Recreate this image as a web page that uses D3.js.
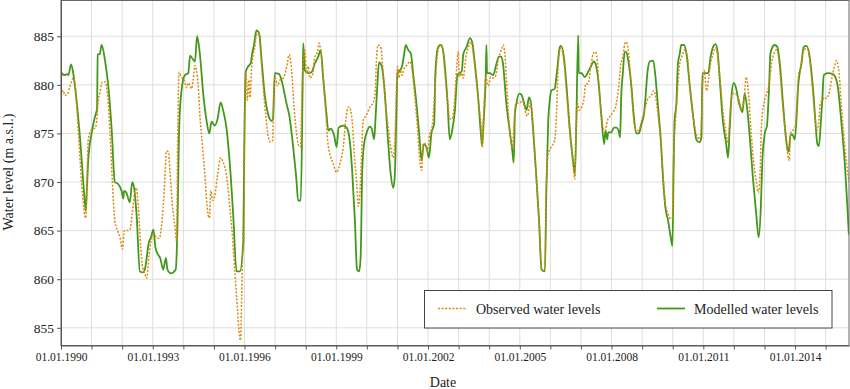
<!DOCTYPE html>
<html><head><meta charset="utf-8">
<script src="https://cdn.jsdelivr.net/npm/d3@7"></script>
<style>body{margin:0;background:#fff}svg{display:block;font-family:"Liberation Serif","Times New Roman",serif}</style>
</head><body><svg id="c" width="850" height="389"></svg>
<script>
// [decimal year, water level (m a.s.l.)]
const observed = [
[1990.00,878.9],[1990.04,879.3],[1990.08,879.4],[1990.12,878.9],[1990.22,879.1],[1990.29,879.8],[1990.40,880.7],[1990.48,879.4],
[1990.57,875.0],[1990.67,870.1],[1990.74,867.4],[1990.81,866.3],[1990.86,871.2],[1990.89,874.3],[1990.98,875.3],[1991.06,875.5],
[1991.12,875.6],[1991.17,876.3],[1991.22,878.4],[1991.27,879.1],[1991.35,880.3],[1991.44,880.3],[1991.53,878.7],[1991.60,875.3],
[1991.68,870.1],[1991.76,866.0],[1991.85,865.0],[1991.93,864.3],[1992.01,863.1],[1992.07,865.0],[1992.14,865.0],[1992.25,865.1],
[1992.33,866.7],[1992.42,869.1],[1992.46,869.4],[1992.53,867.4],[1992.61,863.2],[1992.67,861.2],[1992.72,860.8],[1992.80,860.1],
[1992.88,862.5],[1992.94,863.9],[1993.02,864.6],[1993.13,864.3],[1993.21,864.2],[1993.29,865.6],[1993.38,869.4],[1993.45,873.2],
[1993.51,873.1],[1993.56,871.2],[1993.64,867.7],[1993.73,865.3],[1993.78,863.9],[1993.81,872.9],[1993.86,881.3],[1993.94,880.8],
[1994.05,880.3],[1994.10,879.7],[1994.16,880.2],[1994.27,879.6],[1994.32,880.5],[1994.38,882.0],[1994.43,881.5],[1994.49,879.8],
[1994.54,877.0],[1994.63,873.6],[1994.71,870.5],[1994.78,867.4],[1994.85,866.3],[1994.90,869.1],[1994.96,868.1],[1995.03,868.6],
[1995.11,870.5],[1995.22,872.5],[1995.28,872.2],[1995.36,871.5],[1995.44,870.1],[1995.52,867.4],[1995.61,864.3],[1995.69,860.5],
[1995.76,857.4],[1995.83,854.4],[1995.87,853.7],[1995.91,858.4],[1995.94,862.5],[1995.98,863.6],[1996.01,876.3],[1996.05,881.3],
[1996.09,878.4],[1996.14,880.5],[1996.18,878.7],[1996.23,881.5],[1996.29,883.2],[1996.34,883.9],[1996.39,885.1],[1996.47,885.3],
[1996.53,883.2],[1996.61,879.8],[1996.70,876.7],[1996.78,874.6],[1996.85,874.1],[1996.92,874.3],[1996.96,879.8],[1997.00,880.8],
[1997.07,879.9],[1997.16,880.5],[1997.27,880.7],[1997.38,881.9],[1997.46,883.1],[1997.54,881.5],[1997.62,877.7],[1997.70,875.0],
[1997.78,873.7],[1997.83,873.6],[1997.88,879.8],[1997.92,882.2],[1997.97,883.6],[1998.03,881.2],[1998.08,881.9],[1998.14,880.7],
[1998.22,881.0],[1998.30,882.9],[1998.39,883.4],[1998.44,884.3],[1998.49,883.6],[1998.57,880.8],[1998.66,877.0],[1998.72,874.2],
[1998.79,872.9],[1998.90,871.9],[1999.01,871.0],[1999.12,871.9],[1999.23,873.6],[1999.31,876.3],[1999.39,877.7],[1999.43,877.7],
[1999.52,876.3],[1999.59,872.9],[1999.67,869.8],[1999.72,867.5],[1999.77,868.7],[1999.83,872.9],[1999.88,876.3],[1999.99,876.9],
[2000.10,877.7],[2000.21,878.2],[2000.27,879.1],[2000.32,882.9],[2000.37,884.1],[2000.45,883.9],[2000.51,882.2],[2000.59,878.7],
[2000.70,875.6],[2000.78,873.6],[2000.86,872.5],[2000.91,873.9],[2000.96,879.1],[2001.00,881.9],[2001.05,880.7],[2001.10,881.5],
[2001.15,881.0],[2001.22,881.7],[2001.30,882.0],[2001.41,882.4],[2001.49,881.2],[2001.57,878.7],[2001.66,875.3],[2001.73,872.2],
[2001.79,871.2],[2001.84,873.9],[2001.89,874.0],[2001.98,873.2],[2002.06,875.0],[2002.13,875.6],[2002.23,879.8],[2002.31,883.2],
[2002.39,884.1],[2002.47,883.8],[2002.55,881.2],[2002.64,878.4],[2002.71,876.5],[2002.79,876.5],[2002.86,878.1],[2002.94,881.9],
[2002.99,883.4],[2003.02,880.8],[2003.10,881.2],[2003.15,880.7],[2003.24,882.9],[2003.32,883.9],[2003.40,884.4],[2003.48,883.2],
[2003.57,880.8],[2003.66,878.1],[2003.74,875.6],[2003.78,873.6],[2003.83,877.7],[2003.89,880.8],[2003.97,879.9],[2004.05,880.8],
[2004.13,880.7],[2004.22,881.0],[2004.29,882.5],[2004.40,883.6],[2004.46,884.1],[2004.51,883.2],[2004.59,879.1],[2004.67,875.3],
[2004.76,873.6],[2004.80,875.3],[2004.87,878.1],[2004.98,878.1],[2005.09,878.4],[2005.20,877.0],[2005.25,876.8],[2005.34,878.1],
[2005.39,877.4],[2005.45,875.0],[2005.52,871.3],[2005.63,865.8],[2005.71,861.1],[2005.82,861.0],[2005.87,870.1],[2005.93,872.9],
[2006.03,873.6],[2006.14,874.3],[2006.19,876.3],[2006.25,881.5],[2006.31,883.6],[2006.35,883.8],[2006.44,882.5],[2006.53,879.1],
[2006.63,875.3],[2006.74,871.9],[2006.80,870.3],[2006.85,876.3],[2006.89,878.1],[2006.94,877.4],[2007.02,877.7],[2007.09,878.4],
[2007.16,880.1],[2007.23,880.1],[2007.31,881.5],[2007.40,883.2],[2007.48,883.4],[2007.55,881.9],[2007.58,880.1],[2007.67,877.0],
[2007.72,875.6],[2007.80,875.3],[2007.86,876.3],[2007.94,876.7],[2008.05,877.2],[2008.13,877.7],[2008.22,879.4],[2008.31,882.2],
[2008.37,882.9],[2008.45,884.4],[2008.50,884.3],[2008.58,882.5],[2008.65,879.4],[2008.73,876.3],[2008.81,875.3],[2008.89,875.3],
[2008.98,876.3],[2009.08,877.4],[2009.19,878.6],[2009.30,878.9],[2009.38,879.4],[2009.46,878.4],[2009.54,876.3],[2009.61,874.3],
[2009.68,870.8],[2009.76,867.7],[2009.85,866.7],[2009.93,866.2],[2009.99,866.3],[2010.03,872.9],[2010.09,876.3],[2010.15,879.1],
[2010.23,882.2],[2010.30,882.9],[2010.39,883.6],[2010.48,882.9],[2010.56,879.8],[2010.67,876.7],[2010.78,874.8],[2010.88,874.4],
[2010.94,876.3],[2010.97,879.4],[2011.03,881.5],[2011.11,879.4],[2011.18,880.8],[2011.24,882.2],[2011.32,883.2],[2011.40,883.8],
[2011.46,883.2],[2011.54,880.8],[2011.64,877.4],[2011.73,875.3],[2011.81,874.1],[2011.88,877.4],[2011.95,879.1],[2012.04,879.1],
[2012.15,878.6],[2012.26,877.5],[2012.34,878.7],[2012.40,880.8],[2012.48,879.1],[2012.56,875.3],[2012.64,872.2],[2012.73,870.1],
[2012.80,868.9],[2012.85,870.5],[2012.91,876.3],[2012.99,878.2],[2013.07,879.1],[2013.15,880.1],[2013.23,882.2],[2013.31,883.2],
[2013.40,883.6],[2013.48,882.2],[2013.56,879.1],[2013.64,876.3],[2013.73,873.6],[2013.81,872.2],[2013.85,875.0],[2013.92,875.3],
[2014.00,875.6],[2014.07,878.7],[2014.12,881.2],[2014.17,881.5],[2014.23,882.9],[2014.31,883.6],[2014.39,883.8],[2014.47,882.9],
[2014.56,879.8],[2014.64,877.0],[2014.71,875.3],[2014.78,876.3],[2014.83,878.1],[2014.89,878.4],[2014.96,878.7],[2015.03,878.6],
[2015.13,879.4],[2015.21,880.8],[2015.29,881.9],[2015.35,882.5],[2015.43,881.5],[2015.51,878.1],[2015.62,873.9],[2015.73,870.8],
[2015.77,870.0]
];
const modelled = [
[1990.00,879.8],[1990.01,881.2],[1990.10,881.0],[1990.20,881.1],[1990.24,881.0],[1990.33,882.1],[1990.40,881.2],[1990.46,879.8],
[1990.62,874.6],[1990.76,868.7],[1990.81,867.0],[1990.85,869.5],[1990.89,872.2],[1991.00,875.0],[1991.11,876.7],[1991.18,877.6],
[1991.20,883.1],[1991.27,883.2],[1991.33,884.1],[1991.44,882.5],[1991.55,879.8],[1991.66,875.3],[1991.76,870.0],[1991.87,869.8],
[1991.98,869.1],[1992.04,868.3],[1992.06,869.1],[1992.14,868.9],[1992.25,867.9],[1992.33,870.0],[1992.39,869.4],[1992.47,866.7],
[1992.58,860.8],[1992.69,860.7],[1992.74,861.0],[1992.88,863.9],[1992.94,864.3],[1993.02,865.1],[1993.09,863.2],[1993.20,862.4],
[1993.24,862.2],[1993.34,861.0],[1993.43,862.2],[1993.48,861.0],[1993.59,860.6],[1993.75,861.0],[1993.81,866.0],[1993.86,875.3],
[1993.94,879.4],[1994.05,881.0],[1994.16,881.2],[1994.22,883.0],[1994.32,882.6],[1994.38,882.4],[1994.45,885.0],[1994.54,883.2],
[1994.65,879.1],[1994.76,876.3],[1994.85,875.0],[1994.92,876.2],[1995.03,875.8],[1995.12,876.5],[1995.22,878.2],[1995.30,877.4],
[1995.41,875.6],[1995.52,871.9],[1995.63,866.7],[1995.74,860.8],[1995.85,860.8],[1995.96,863.9],[1995.99,872.9],[1996.04,881.3],
[1996.12,881.9],[1996.20,882.2],[1996.25,883.2],[1996.31,884.1],[1996.39,885.6],[1996.48,885.3],[1996.56,882.5],[1996.67,878.7],
[1996.77,877.0],[1996.88,876.3],[1996.93,876.5],[1996.99,881.2],[1997.13,881.1],[1997.24,880.1],[1997.37,878.1],[1997.46,876.9],
[1997.59,873.6],[1997.70,870.1],[1997.75,868.1],[1997.84,868.1],[1997.90,879.8],[1997.92,884.3],[1997.97,881.5],[1998.08,881.2],
[1998.19,881.3],[1998.30,882.2],[1998.41,882.9],[1998.49,883.6],[1998.57,880.8],[1998.68,877.0],[1998.74,875.3],[1998.82,875.5],
[1998.93,874.8],[1999.01,873.6],[1999.08,875.6],[1999.23,875.8],[1999.34,875.6],[1999.44,874.3],[1999.52,871.2],[1999.61,866.0],
[1999.68,861.0],[1999.75,860.8],[1999.80,862.5],[1999.85,871.2],[1999.91,873.9],[2000.02,875.3],[2000.10,875.7],[2000.16,875.5],
[2000.24,874.4],[2000.28,876.3],[2000.34,879.8],[2000.40,882.3],[2000.48,882.0],[2000.57,879.8],[2000.67,875.3],[2000.78,870.8],
[2000.86,869.4],[2000.91,870.5],[2000.96,876.3],[2001.00,881.2],[2001.08,881.5],[2001.15,881.9],[2001.22,883.2],[2001.27,884.1],
[2001.35,883.6],[2001.44,883.2],[2001.51,881.2],[2001.62,878.1],[2001.71,875.0],[2001.79,872.2],[2001.86,873.9],[2001.95,873.6],
[2002.03,872.5],[2002.11,875.0],[2002.20,876.0],[2002.24,881.2],[2002.33,883.9],[2002.42,884.1],[2002.49,883.6],[2002.57,881.2],
[2002.64,878.1],[2002.71,874.4],[2002.79,875.3],[2002.88,877.4],[2002.96,881.0],[2003.04,881.2],[2003.11,881.5],[2003.15,883.1],
[2003.26,883.9],[2003.37,884.8],[2003.45,884.3],[2003.53,882.2],[2003.64,878.7],[2003.72,875.3],[2003.77,873.7],[2003.82,876.3],
[2003.89,881.2],[2003.91,884.1],[2003.93,881.2],[2004.02,881.2],[2004.13,881.0],[2004.24,882.2],[2004.32,882.9],[2004.40,882.9],
[2004.45,882.2],[2004.56,878.1],[2004.67,875.3],[2004.76,873.1],[2004.80,872.0],[2004.84,877.0],[2004.89,878.1],[2004.98,879.1],
[2005.05,879.0],[2005.16,877.9],[2005.22,877.4],[2005.30,878.7],[2005.36,878.2],[2005.43,875.6],[2005.52,871.5],[2005.63,866.0],
[2005.71,861.0],[2005.82,860.8],[2005.87,869.4],[2005.93,876.3],[2005.98,878.4],[2006.03,879.4],[2006.14,879.6],[2006.22,881.5],
[2006.31,883.9],[2006.35,884.0],[2006.44,882.9],[2006.53,879.8],[2006.63,875.6],[2006.74,872.2],[2006.80,870.8],[2006.85,876.3],
[2006.91,885.1],[2006.93,881.2],[2007.02,881.2],[2007.12,880.8],[2007.23,881.3],[2007.34,882.0],[2007.42,882.4],[2007.50,881.9],
[2007.59,879.8],[2007.67,876.7],[2007.76,873.9],[2007.80,875.3],[2007.86,874.4],[2007.89,875.1],[2007.99,875.1],[2008.08,875.6],
[2008.16,875.6],[2008.23,875.3],[2008.28,874.6],[2008.32,879.1],[2008.37,881.2],[2008.43,883.4],[2008.48,883.4],[2008.56,882.2],
[2008.65,879.8],[2008.73,876.7],[2008.81,875.0],[2008.89,875.0],[2008.98,876.0],[2009.06,877.0],[2009.11,878.7],[2009.17,881.2],
[2009.25,882.4],[2009.36,882.5],[2009.43,881.0],[2009.52,877.7],[2009.61,874.3],[2009.68,870.5],[2009.76,867.4],[2009.85,866.0],
[2009.92,864.6],[2009.99,863.4],[2010.03,871.5],[2010.06,876.3],[2010.12,878.1],[2010.17,882.2],[2010.23,883.2],[2010.28,884.1],
[2010.37,884.1],[2010.45,883.2],[2010.56,879.8],[2010.67,876.7],[2010.78,874.3],[2010.88,874.1],[2010.94,874.6],[2010.97,881.2],
[2011.05,881.2],[2011.16,881.2],[2011.24,882.9],[2011.32,883.9],[2011.40,884.2],[2011.46,883.6],[2011.54,880.5],[2011.64,876.3],
[2011.75,873.9],[2011.81,872.5],[2011.86,875.3],[2011.92,878.7],[2011.99,880.2],[2012.06,879.8],[2012.17,878.1],[2012.28,877.2],
[2012.35,879.1],[2012.43,877.7],[2012.52,874.6],[2012.62,870.5],[2012.73,866.7],[2012.81,864.3],[2012.88,867.4],[2012.93,872.2],
[2013.01,875.0],[2013.08,875.8],[2013.15,879.8],[2013.19,883.1],[2013.26,883.9],[2013.33,884.1],[2013.42,883.9],[2013.50,882.2],
[2013.59,878.7],[2013.67,875.6],[2013.74,873.6],[2013.79,873.1],[2013.85,874.8],[2013.91,874.9],[2013.99,874.4],[2014.05,876.7],
[2014.10,879.8],[2014.15,881.2],[2014.21,882.2],[2014.28,883.9],[2014.37,884.0],[2014.46,883.2],[2014.53,881.5],[2014.61,878.7],
[2014.67,876.0],[2014.73,873.9],[2014.78,873.7],[2014.84,876.0],[2014.89,878.4],[2014.94,881.0],[2015.07,881.2],[2015.24,881.1],
[2015.32,880.8],[2015.40,879.8],[2015.51,876.3],[2015.62,872.2],[2015.76,864.6]
];
const yTicks = [855, 860, 865, 870, 875, 880, 885];
const gridYears = d3.range(1990, 2016);
const labelYears = [1990, 1993, 1996, 1999, 2002, 2005, 2008, 2011, 2014];
const seriesNames = ["Observed water levels", "Modelled water levels"];
const colors = {obs: "#dc8a10", mod: "#43981a"};

function toDate(v){ const yr=Math.floor(v); const s=Date.UTC(yr,0,1), e=Date.UTC(yr+1,0,1); return new Date(s+(v-yr)*(e-s)); }

const L=61, R=849, T=0, B=345.5;
const svg = d3.select("#c");
const x = d3.scaleUtc().domain([new Date(Date.UTC(1990,0,1)), new Date(Date.UTC(2015,9,7))]).range([L,R]);
const y = d3.scaleLinear().domain([853.18, 888.73]).range([B,T]);

// grid
const g = svg.append("g");
g.selectAll("line.v").data(gridYears).join("line")
  .attr("x1", d=>x(new Date(Date.UTC(d,0,1)))).attr("x2", d=>x(new Date(Date.UTC(d,0,1))))
  .attr("y1", T).attr("y2", B).attr("stroke", "#dedede").attr("stroke-width", 1);
g.selectAll("line.h").data(yTicks).join("line")
  .attr("x1", L).attr("x2", R).attr("y1", d=>y(d)).attr("y2", d=>y(d))
  .attr("stroke", "#dedede").attr("stroke-width", 1);

svg.append("clipPath").attr("id","clip").append("rect").attr("x",L).attr("y",T).attr("width",R-L).attr("height",B-T);

const line = d3.line().x(d=>x(toDate(d[0]))).y(d=>y(d[1])).curve(d3.curveMonotoneX);
svg.append("path").datum(modelled).attr("d", line).attr("clip-path","url(#clip)")
  .attr("fill","none").attr("stroke",colors.mod).attr("stroke-width",1.8).attr("stroke-linejoin","round");
svg.append("path").datum(observed).attr("d", line).attr("clip-path","url(#clip)")
  .attr("fill","none").attr("stroke",colors.obs).attr("stroke-width",1.5).attr("stroke-dasharray","2,1.6");

// frame
svg.append("rect").attr("x",L).attr("y",T+0.5).attr("width",R-L).attr("height",B-T-0.5)
  .attr("fill","none").attr("stroke","#666").attr("stroke-width",1);

// axes
const fmt = d3.utcFormat("%d.%m.%Y");
const xAxis = d3.axisBottom(x).tickValues(gridYears.map(d=>new Date(Date.UTC(d,0,1))))
  .tickSize(4).tickSizeOuter(0).tickPadding(3)
  .tickFormat(d => labelYears.includes(d.getUTCFullYear()) ? fmt(d) : "");
const xa = svg.append("g").attr("transform",`translate(0,${B})`).call(xAxis);
xa.selectAll("text").attr("font-size","11.5px").attr("fill","#222").attr("font-family","Liberation Serif");
xa.selectAll("line,path").attr("stroke","#555");

const yAxis = d3.axisLeft(y).tickValues(yTicks).tickSize(4).tickSizeOuter(0).tickPadding(3);
const ya = svg.append("g").attr("transform",`translate(${L},0)`).call(yAxis);
ya.selectAll("text").attr("font-size","13.5px").attr("fill","#222").attr("font-family","Liberation Serif");
ya.selectAll("line,path").attr("stroke","#555");

// titles
svg.append("text").attr("x",(L+R)/2-12).attr("y",387).attr("text-anchor","middle")
  .attr("font-size","14px").attr("fill","#222").text("Date");
svg.append("text").attr("transform","translate(13,172) rotate(-90)").attr("text-anchor","middle")
  .attr("font-size","14px").attr("fill","#222").text("Water level (m a.s.l.)");

// legend
const lg = svg.append("g");
lg.append("rect").attr("x",424.5).attr("y",290.5).attr("width",407.5).attr("height",37.5)
  .attr("fill","#fff").attr("stroke","#444").attr("stroke-width",1);
lg.append("line").attr("x1",438).attr("x2",467).attr("y1",308.5).attr("y2",308.5)
  .attr("stroke",colors.obs).attr("stroke-width",1.5).attr("stroke-dasharray","2,1.6");
lg.append("text").attr("x",476).attr("y",314).attr("font-size","14px").attr("fill","#222").text(seriesNames[0]);
lg.append("line").attr("x1",657).attr("x2",685).attr("y1",308.5).attr("y2",308.5)
  .attr("stroke",colors.mod).attr("stroke-width",1.8);
lg.append("text").attr("x",694).attr("y",314).attr("font-size","14px").attr("fill","#222").text(seriesNames[1]);
</script></body></html>
